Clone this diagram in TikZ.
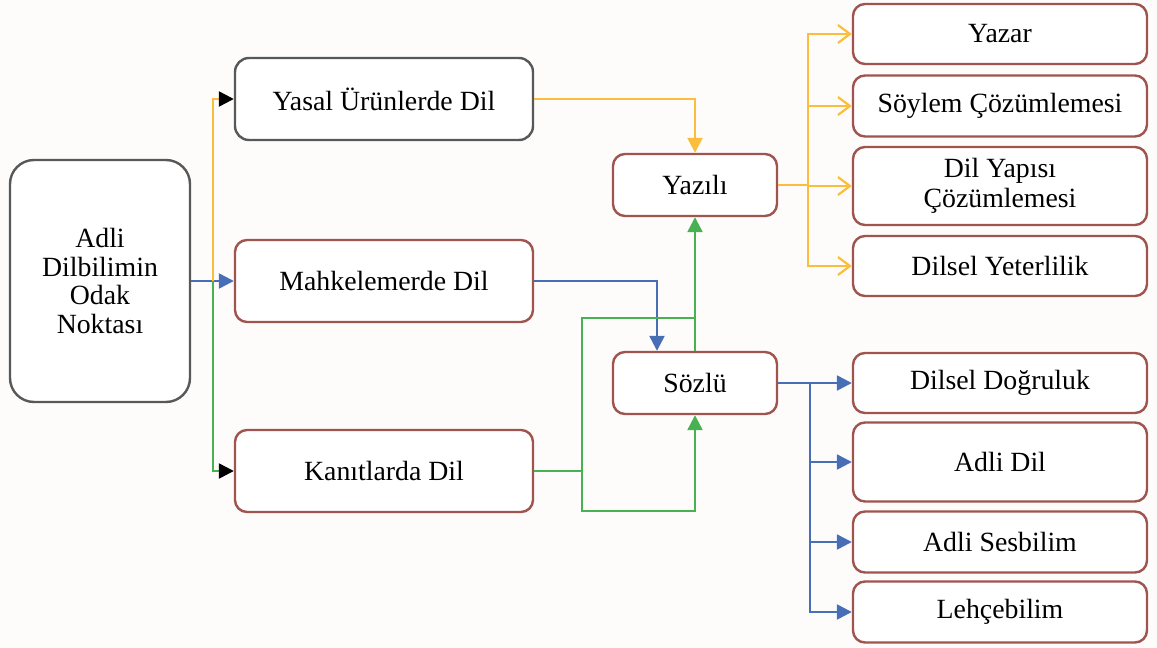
\documentclass[tikz,border=0pt]{standalone}
\usepackage{fontspec}
\setmainfont{Liberation Serif}
\usetikzlibrary{arrows.meta}

\definecolor{brd}{RGB}{160,84,78}
\definecolor{gry}{RGB}{88,88,88}
\definecolor{yel}{RGB}{250,190,60}
\definecolor{grn}{RGB}{72,178,82}
\definecolor{blu}{RGB}{72,110,182}
\definecolor{bgc}{RGB}{253,252,251}

\tikzset{
  box/.style={draw=brd,line width=1.2pt,rounded corners=6pt,fill=white,
    align=center,inner sep=0pt,font=\fontsize{13.9}{15}\selectfont},
  side/.style={box,minimum width=147pt},
  mid/.style={box,minimum width=149pt,minimum height=41pt},
  small/.style={box,minimum width=82pt,minimum height=31pt},
  yline/.style={draw=yel,line width=1.2pt},
  gline/.style={draw=grn,line width=1.2pt},
  bline/.style={draw=blu,line width=1.2pt},
  tri/.style={-{Triangle[length=7.5pt,width=7.5pt]}},
  barb/.style={-{Straight Barb[length=6pt,width=9pt,line width=1.1pt]}}
}

\begin{document}
\begin{tikzpicture}[x=0.5pt,y=-0.5pt]
    \useasboundingbox[fill=bgc] (0,0) rectangle (1157,648);

    % left part
    \node[box,draw=gry,rounded corners=12pt,minimum width=90pt,minimum height=121pt,
      font=\fontsize{13.9}{14.2}\selectfont] (root) at (100,281) {Adli\\Dilbilimin\\Odak\\Noktası};
    \node[mid,draw=gry,rounded corners=7pt] (yasal) at (384,99) {Yasal Ürünlerde Dil};
    \node[mid] (mahk) at (384,281) {Mahkelemerde Dil};
    \node[mid] (kanit) at (384,471) {Kanıtlarda Dil};

    % middle
    \node[small] (yazili) at (695,185) {Yazılı};
    \node[small] (sozlu) at (695,383) {Sözlü};

    % right column
    \node[side,minimum height=30pt] (yazar) at (1000,34) {Yazar};
    \node[side,minimum height=30.5pt] (soylem) at (1000,106) {Söylem Çözümlemesi};
    \node[side,minimum height=39pt] (dilyapi) at (1000,186) {Dil Yapısı\\Çözümlemesi};
    \node[side,minimum height=30pt] (yeter) at (1000,266) {Dilsel Yeterlilik};
    \node[side,minimum height=30pt] (dogru) at (1000,383) {Dilsel Doğruluk};
    \node[side,minimum height=39.5pt] (adlidil) at (1000,462) {Adli Dil};
    \node[side,minimum height=30.5pt] (sesbil) at (1000,542) {Adli Sesbilim};
    \node[side,minimum height=30.5pt] (lehce) at (1000,612) {Lehçebilim};

    \coordinate (t) at (213,281);
    \coordinate (g1) at (582,471);
    \coordinate (gm) at (695,318);
    \coordinate (gb) at (695,511);
    \coordinate (ya) at (808,185);
    \coordinate (sa) at (810,383);

    % from the root
    \draw[bline,tri] (root.east) -- (mahk.west);
    \draw[yline,-{Triangle[length=7.5pt,width=7.5pt,black]}] (t) |- (yasal.west);
    \draw[gline,-{Triangle[length=7.5pt,width=7.5pt,black]}] (t) |- (kanit.west);

    % to Yazılı / Sözlü
    \draw[yline,tri] (yasal.east) -| (yazili.north);
    \draw[bline,tri] (mahk.east) -| ([xshift=-19pt]sozlu.north);
    \draw[gline] (kanit.east) -- (g1);
    \draw[gline,tri] (g1) |- (gm) -- (yazili.south);
    \draw[gline] (sozlu.north) -- (gm);
    \draw[gline,tri] (g1) |- (gb) -- (sozlu.south);

    % right branches
    \draw[yline] (yazili.east) -- (ya);
    \foreach \n in {yazar,soylem,dilyapi,yeter}
        \draw[yline,barb] (ya) |- (\n.west);
    \draw[bline] (sozlu.east) -- (sa);
    \foreach \n in {dogru,adlidil,sesbil,lehce}
        \draw[bline,tri] (sa) |- (\n.west);
\end{tikzpicture}
\end{document}
